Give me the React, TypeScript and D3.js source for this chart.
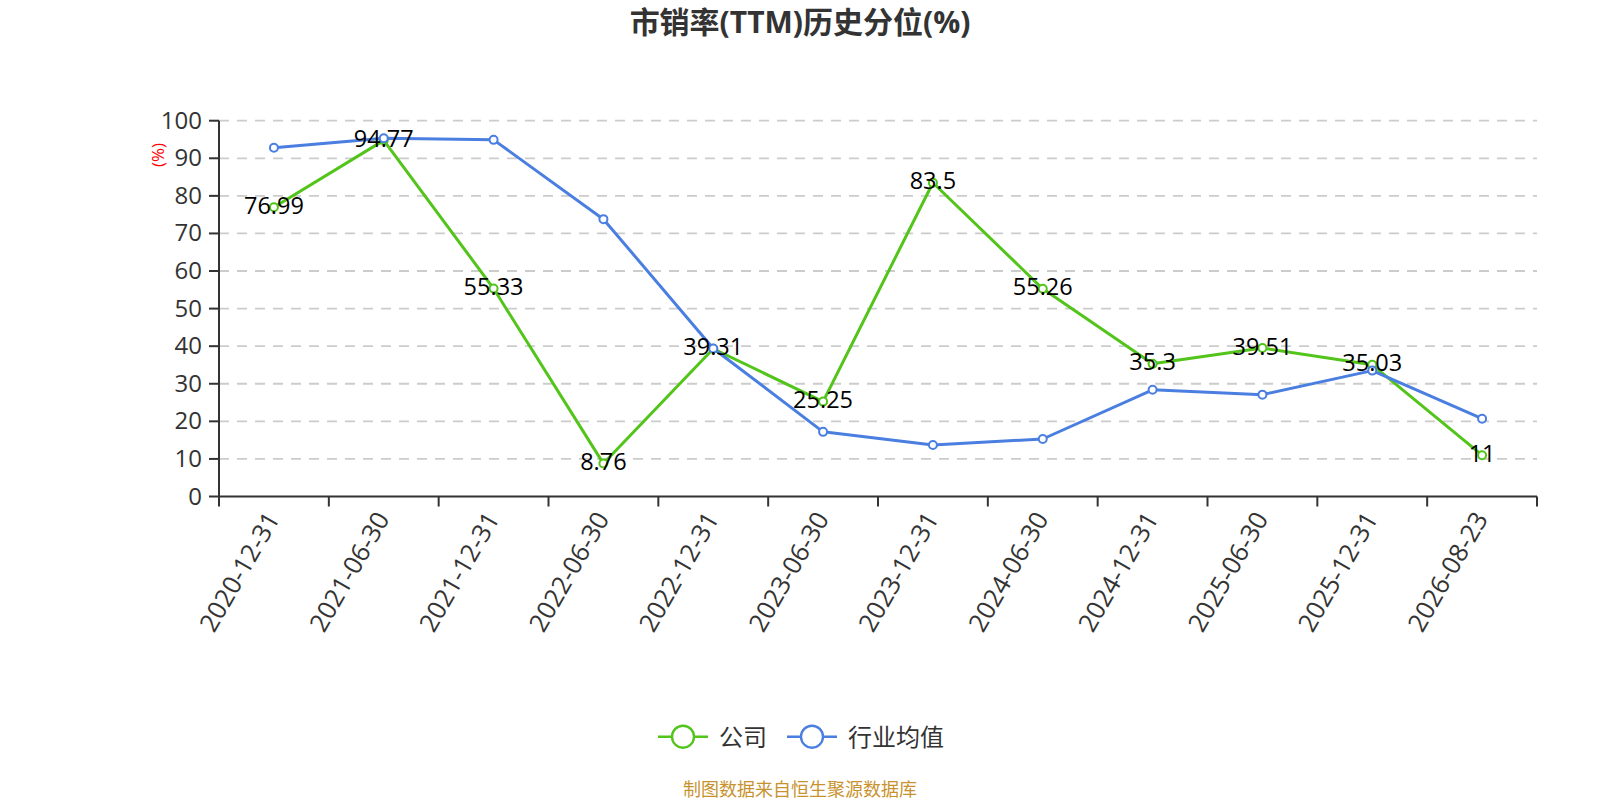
import React from "react";
import * as d3 from "d3";

const categories = [
  "2020-12-31", "2021-06-30", "2021-12-31", "2022-06-30", "2022-12-31", "2023-06-30",
  "2023-12-31", "2024-06-30", "2024-12-31", "2025-06-30", "2025-12-31", "2026-08-23",
];
const companyValues = [76.99, 94.77, 55.33, 8.76, 39.31, 25.25, 83.5, 55.26, 35.3, 39.51, 35.03, 11];
const industryValues = [92.8, 95.3, 94.9, 73.8, 39.4, 17.2, 13.7, 15.3, 28.4, 27.1, 33.5, 20.7];
const yTicks = [0, 10, 20, 30, 40, 50, 60, 70, 80, 90, 100];
const seriesNames = ["公司", "行业均值"];
const title = "市销率(TTM)历史分位(%)";
const yAxisName = "(%)";
const footer = "制图数据来自恒生聚源数据库";

const W = 1600;
const H = 800;
const L = 219;
const R = 1537;
const T = 120.7;
const B = 496.5;
const GREEN = "#52c41a";
const BLUE = "#4a7fe1";
const FONT = "'Open Sans', 'Noto Sans CJK SC', sans-serif";

export default function App() {
  const x = d3.scaleBand<string>().domain(categories).range([L, R]).padding(0);
  const y = d3.scaleLinear().domain([0, 100]).range([B, T]);
  const cx = (c: string) => (x(c) as number) + x.bandwidth() / 2;
  const line = d3
    .line<number>()
    .x((_, i) => cx(categories[i]))
    .y((v) => y(v));

  const series = [
    { name: seriesNames[0], values: companyValues, color: GREEN },
    { name: seriesNames[1], values: industryValues, color: BLUE },
  ];
  const boundaries = [...categories.map((c) => x(c) as number), R];

  const legendItems = [
    { name: seriesNames[0], color: GREEN, x0: 658 },
    { name: seriesNames[1], color: BLUE, x0: 787 },
  ];

  return (
    <svg
      width={W}
      height={H}
      style={{ position: "absolute", left: 0, top: 0, background: "#fff" }}
      fontFamily={FONT}
    >
      <text x={800} y={33} textAnchor="middle" fontSize={30} fontWeight="bold" fill="#333">
        {title}
      </text>

      {/* grid */}
      {yTicks.map((t) =>
        t === 0 ? null : (
          <line key={"g" + t} x1={L} x2={R} y1={y(t)} y2={y(t)} stroke="#cccccc" strokeWidth={1.8} strokeDasharray="10,8" />
        )
      )}

      {/* y axis */}
      <line x1={L} x2={L} y1={T} y2={B} stroke="#333" strokeWidth={2} />
      {yTicks.map((t) => (
        <g key={"yt" + t}>
          <line x1={L - 10} x2={L} y1={y(t)} y2={y(t)} stroke="#333" strokeWidth={2} />
          <text x={202} y={y(t) + 8} textAnchor="end" fontSize={24} fill="#333">
            {t}
          </text>
        </g>
      ))}
      <text
        transform={`translate(157,155) rotate(-90)`}
        textAnchor="middle"
        dominantBaseline="central"
        fontSize={17}
        fill="red"
      >
        {yAxisName}
      </text>

      {/* x axis */}
      <line x1={L} x2={R} y1={B} y2={B} stroke="#333" strokeWidth={2} />
      {boundaries.map((bx, i) => (
        <line key={"xt" + i} x1={bx} x2={bx} y1={B} y2={B + 10} stroke="#333" strokeWidth={2} />
      ))}
      {categories.map((c) => (
        <text
          key={"xl" + c}
          transform={`translate(${cx(c) - 2},${B + 17}) rotate(-60)`}
          textAnchor="end"
          dominantBaseline="central"
          fontSize={25.5}
          fill="#333"
        >
          {c}
        </text>
      ))}

      {/* lines */}
      {series.map((s) => (
        <path key={"l" + s.name} d={line(s.values) || ""} fill="none" stroke={s.color} strokeWidth={3} strokeLinejoin="round" />
      ))}

      {/* markers */}
      {series.map((s) =>
        s.values.map((v, i) => (
          <circle
            key={"m" + s.name + i}
            cx={cx(categories[i])}
            cy={y(v)}
            r={4}
            fill="#fff"
            stroke={s.color}
            strokeWidth={2}
          />
        ))
      )}

      {/* labels */}
      {companyValues.map((v, i) => (
        <text
          key={"dl" + i}
          x={cx(categories[i])}
          y={y(v) + 6.5}
          textAnchor="middle"
          fontSize={23.5}
          fill="#000"
        >
          {String(v)}
        </text>
      ))}

      {/* legend */}
      {legendItems.map((it) => (
        <g key={"lg" + it.name}>
          <line x1={it.x0} x2={it.x0 + 50} y1={736.7} y2={736.7} stroke={it.color} strokeWidth={2.6} />
          <circle cx={it.x0 + 25} cy={736.7} r={11} fill="#fff" stroke={it.color} strokeWidth={2.4} />
          <text x={it.x0 + 61} y={736.7} dominantBaseline="central" fontSize={24} fill="#333">
            {it.name}
          </text>
        </g>
      ))}

      <text x={800} y={789} textAnchor="middle" dominantBaseline="central" fontSize={18} fill="#c8932f">
        {footer}
      </text>
    </svg>
  );
}
